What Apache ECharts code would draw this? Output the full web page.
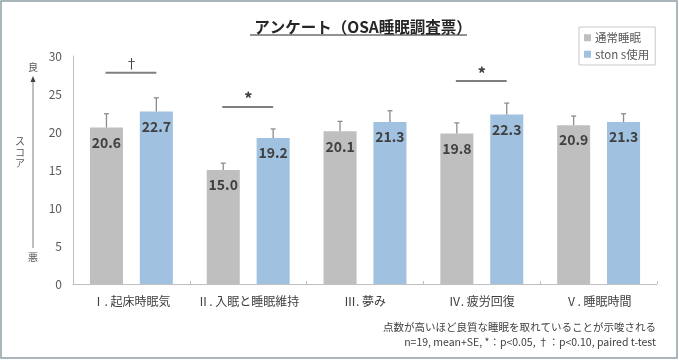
<!DOCTYPE html>
<html>
<head>
<meta charset="utf-8">
<script src="https://cdn.jsdelivr.net/npm/echarts@6/dist/echarts.min.js"></script>
<style>html,body{margin:0;padding:0;background:#fff}#c{width:679px;height:363px}</style>
</head>
<body>
<div id="c"></div>
<script>
const categories = ['Ⅰ. 起床時眠気', 'Ⅱ. 入眠と睡眠維持', 'Ⅲ. 夢み', 'Ⅳ. 疲労回復', 'Ⅴ. 睡眠時間'];
const normalMean = [20.6, 15.0, 20.1, 19.8, 20.9];
const normalSE = [1.8, 0.9, 1.3, 1.4, 1.2];
const stonMean = [22.7, 19.2, 21.3, 22.3, 21.3];
const stonSE = [1.8, 1.2, 1.5, 1.5, 1.1];
const sigMark = ['†', '*', '', '*', ''];
const sigLevel = [27.8, 23.3, null, 26.7, null];
const yTicks = [0, 5, 10, 15, 20, 25, 30];
const seriesNames = ['通常睡眠', 'ston s使用'];

const FONT = '"Noto Sans CJK JP", "Noto Sans", sans-serif';
const CAT_GAP = 0.29, BAR_GAP = 0.51;
function barGeom(api) {
  const band = api.size([1, 0])[0];
  const bw = band * (1 - CAT_GAP) / (2 + BAR_GAP);
  return { bw: bw, off: bw * (1 + BAR_GAP) / 2 };
}
function errRender(sign) {
  return function (params, api) {
    const g = barGeom(api);
    const i = api.value(0);
    const p0 = api.coord([i, api.value(1)]);
    const p1 = api.coord([i, api.value(1) + api.value(2)]);
    const x = p0[0] + sign * g.off;
    const st = { stroke: '#8c8c8c', lineWidth: 1.3 };
    return { type: 'group', children: [
      { type: 'line', shape: { x1: x, y1: p0[1], x2: x, y2: p1[1] }, style: st },
      { type: 'line', shape: { x1: x - 2.5, y1: p1[1], x2: x + 2.5, y2: p1[1] }, style: st }
    ]};
  };
}
function sigRender(params, api) {
  if (api.value(1) == null || isNaN(api.value(1))) return;
  const g = barGeom(api);
  const i = api.value(0);
  const p = api.coord([i, api.value(1)]);
  const mark = sigMark[params.dataIndex];
  const isStar = mark === '*';
  return { type: 'group', children: [
    { type: 'line', shape: { x1: p[0] - g.off - 1, y1: p[1], x2: p[0] + g.off, y2: p[1] }, style: { stroke: '#7f7f7f', lineWidth: 2 } },
    { type: 'text', style: { x: p[0], y: p[1] - (isStar ? 8 : 10), text: mark, textAlign: 'center', textVerticalAlign: 'middle', fill: '#404040',
      font: (isStar ? 'bold 17px ' : '13px ') + FONT } }
  ]};
}

const chart = echarts.init(document.getElementById('c'));
chart.setOption({
  backgroundColor: '#fff',
  animation: false,
  textStyle: { fontFamily: FONT },
  title: {
    text: 'アンケート（OSA睡眠調査票）',
    left: 358, top: 14, textAlign: 'center',
    textStyle: { fontSize: 15.5, fontWeight: 'bold', color: '#262626', fontFamily: FONT }
  },
  legend: {
    orient: 'vertical', left: 579, top: 27,
    padding: [5, 6, 5, 5], itemGap: 5,
    borderColor: '#c8c8c8', borderWidth: 1,
    itemWidth: 7, itemHeight: 7, icon: 'rect',
    textStyle: { fontSize: 11.5, color: '#595959', padding: [0, 0, 0, -1] },
    data: seriesNames
  },
  grid: { left: 73, right: 22, top: 56, bottom: 79 },
  xAxis: {
    type: 'category', data: categories,
    axisLine: { lineStyle: { color: '#bfbfbf', width: 1 } },
    axisTick: { show: true, inside: true, length: 3, lineStyle: { color: '#bfbfbf' } },
    axisLabel: { color: '#404040', fontSize: 12, margin: 11, interval: 0 }
  },
  yAxis: {
    type: 'value', min: 0, max: 30, interval: 5,
    axisLine: { show: true, lineStyle: { color: '#bfbfbf' } },
    axisTick: { show: false },
    splitLine: { show: false },
    axisLabel: { color: '#595959', fontSize: 12, margin: 11,
      formatter: v => yTicks.includes(v) ? String(v) : '' }
  },
  series: [
    { name: seriesNames[0], type: 'bar', data: normalMean, barGap: (BAR_GAP * 100) + '%', barCategoryGap: (CAT_GAP * 100) + '%',
      itemStyle: { color: '#bfbfbf' },
      label: { show: true, position: 'insideTop', distance: 8, color: '#404040', fontSize: 14, fontWeight: 'bold', formatter: p => p.value.toFixed(1) } },
    { name: seriesNames[1], type: 'bar', data: stonMean,
      itemStyle: { color: '#a0c1df' },
      label: { show: true, position: 'insideTop', distance: 8, color: '#404040', fontSize: 14, fontWeight: 'bold', formatter: p => p.value.toFixed(1) } },
    { type: 'custom', renderItem: errRender(-1), z: 5, silent: true,
      data: normalMean.map((m, i) => [i, m, normalSE[i]]), encode: { x: 0, y: 1 } },
    { type: 'custom', renderItem: errRender(1), z: 5, silent: true,
      data: stonMean.map((m, i) => [i, m, stonSE[i]]), encode: { x: 0, y: 1 } },
    { type: 'custom', renderItem: sigRender, z: 5, silent: true,
      data: sigLevel.map((h, i) => [i, h == null ? '-' : h]), encode: { x: 0, y: 1 } }
  ],
  graphic: [
    { type: 'rect', shape: { x: 1, y: 1, width: 676, height: 357 }, style: { fill: 'none', stroke: '#8fa0a4', lineWidth: 1.5 }, silent: true },
    { type: 'line', shape: { x1: 250, y1: 35, x2: 467, y2: 35 }, style: { stroke: '#262626', lineWidth: 1.2 } },
    { type: 'text', style: { x: 33, y: 67, text: '良', textAlign: 'center', textVerticalAlign: 'middle', fill: '#595959', font: '10px ' + FONT } },
    { type: 'line', shape: { x1: 33, y1: 248, x2: 33, y2: 80 }, style: { stroke: '#7f7f7f', lineWidth: 1 } },
    { type: 'polygon', shape: { points: [[33, 76], [30.5, 82], [35.5, 82]] }, style: { fill: '#404040' } },
    { type: 'text', style: { x: 20, y: 152, text: 'ス\nコ\nア', textAlign: 'center', textVerticalAlign: 'middle', lineHeight: 11, fill: '#595959', font: '10px ' + FONT } },
    { type: 'text', style: { x: 33, y: 257, text: '悪', textAlign: 'center', textVerticalAlign: 'middle', fill: '#595959', font: '10px ' + FONT } },
    { type: 'text', style: { x: 656, y: 327, text: '点数が高いほど良質な睡眠を取れていることが示唆される', textAlign: 'right', textVerticalAlign: 'middle', fill: '#404040', font: '10.5px ' + FONT } },
    { type: 'text', style: { x: 656, y: 342, text: 'n=19, mean+SE, *：p<0.05, †：p<0.10, paired t-test', textAlign: 'right', textVerticalAlign: 'middle', fill: '#404040', font: '10.5px ' + FONT } }
  ]
});
</script>
</body>
</html>
